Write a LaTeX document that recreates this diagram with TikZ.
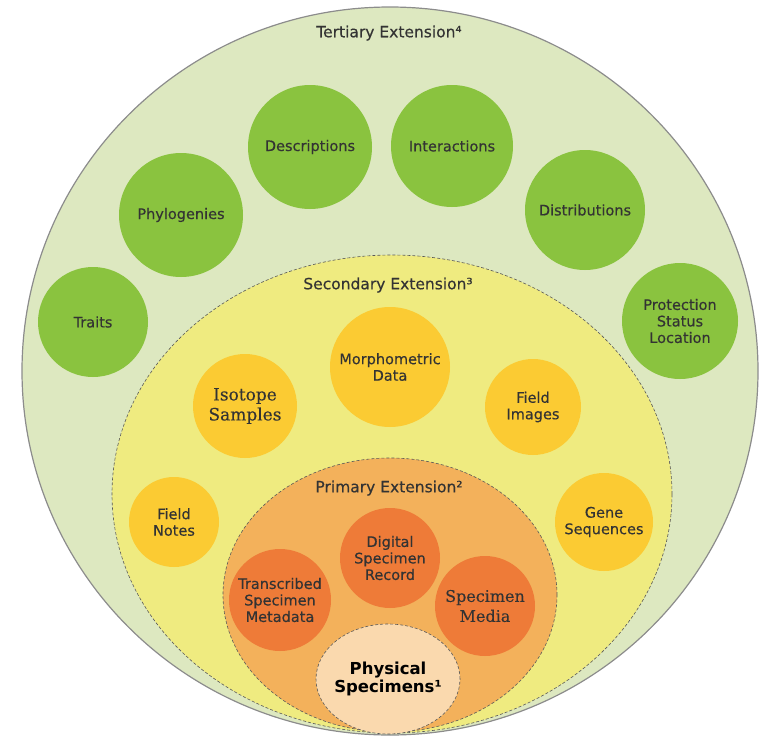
\documentclass[tikz,border=0pt]{standalone}
\usepackage{fontspec}
\setmainfont{DejaVu Sans}
\newfontface\labelsans{DejaVu Sans}[FakeBold=0.35]
\newfontfamily\labelserif{DejaVu Serif}[FakeBold=0.3]
\usetikzlibrary{shapes.geometric}

\definecolor{tertiaryfill}{HTML}{DDE8C0}
\definecolor{secondaryfill}{HTML}{EFEB80}
\definecolor{primaryfill}{HTML}{F3B15B}
\definecolor{greenball}{HTML}{8AC33F}
\definecolor{yellowball}{HTML}{FBCB33}
\definecolor{orangeball}{HTML}{EE7B38}
\definecolor{physicalfill}{HTML}{FAD9AE}
\definecolor{labeltext}{HTML}{333333}

\begin{document}
\begin{tikzpicture}[x = 1pt, y = -1pt,
	ball/.style = {circle, inner sep = 0pt, align = center, text = labeltext,
		font = \labelsans\fontsize{14.5}{16.5}\selectfont},
	green ball/.style = {ball, fill = greenball},
	yellow ball/.style = {ball, fill = yellowball},
	orange ball/.style = {ball, fill = orangeball},
	region title/.style = {text = labeltext, font = \labelsans\fontsize{15.5}{18}\selectfont},
	region border/.style = {draw = black!65, densely dashed, line width = 0.6pt}]

	\useasboundingbox (0, 0) rectangle (761, 736);

	% Nested extension regions
	
	\filldraw [fill = tertiaryfill, draw = black!45, line width = 1.2pt] (390, 371) ellipse (368pt and 364pt);
	\filldraw [fill = secondaryfill, region border] (392, 494) ellipse (280pt and 239pt);
	\filldraw [fill = primaryfill, region border] (390, 595) ellipse (167pt and 137pt);
	
	% Region titles
	
	\node [region title] (tertiary) at (389, 33) {Tertiary Extension⁴};
	\node [region title] (secondary) at (388, 285) {Secondary Extension³};
	\node [region title] (primary) at (389, 488) {Primary Extension²};
	
	% Tertiary extension
	
	\node [green ball, minimum size = 110pt] (traits) at (93, 322) {Traits};
	\node [green ball, minimum size = 124pt] (phylogenies) at (181, 215) {Phylogenies};
	\node [green ball, minimum size = 124pt] (descriptions) at (310, 147) {Descriptions};
	\node [green ball, minimum size = 122pt] (interactions) at (452, 146) {Interactions};
	\node [green ball, minimum size = 120pt] (distributions) at (585, 210) {Distributions};
	\node [green ball, minimum size = 116pt] (protection) at (680, 321) {Protection\\Status\\Location};
	
	% Secondary extension
	
	\node [yellow ball, minimum size = 104pt, font = \labelserif\fontsize{17}{20}\selectfont] (isotope) at (245, 406) {Isotope\\Samples};
	\node [yellow ball, minimum size = 120pt] (morphometric) at (390, 367) {Morphometric\\Data};
	\node [yellow ball, minimum size = 96pt] (fieldimages) at (533, 407) {Field\\Images};
	\node [yellow ball, minimum size = 90pt] (fieldnotes) at (174, 522) {Field\\Notes};
	\node [yellow ball, minimum size = 98pt] (genes) at (604, 522) {Gene\\Sequences};
	
	% Primary extension
	
	\node [orange ball, minimum size = 100pt] (digital) at (390, 558) {Digital\\Specimen\\Record};
	\node [orange ball, minimum size = 102pt] (transcribed) at (280, 600) {Transcribed\\Specimen\\Metadata};
	\node [orange ball, minimum size = 100pt, font = \labelserif\fontsize{16}{20}\selectfont] (media) at (485, 606) {Specimen\\Media};
	
	% Physical specimens at the core
	
	\node [ellipse, fill = physicalfill, region border, minimum width = 144pt, minimum height = 110pt, inner sep = -14pt,
		align = center, text = black, font = \bfseries\fontsize{16.5}{18}\selectfont] (physical) at (388, 679) {Physical\\Specimens¹};
	
\end{tikzpicture}
\end{document}
